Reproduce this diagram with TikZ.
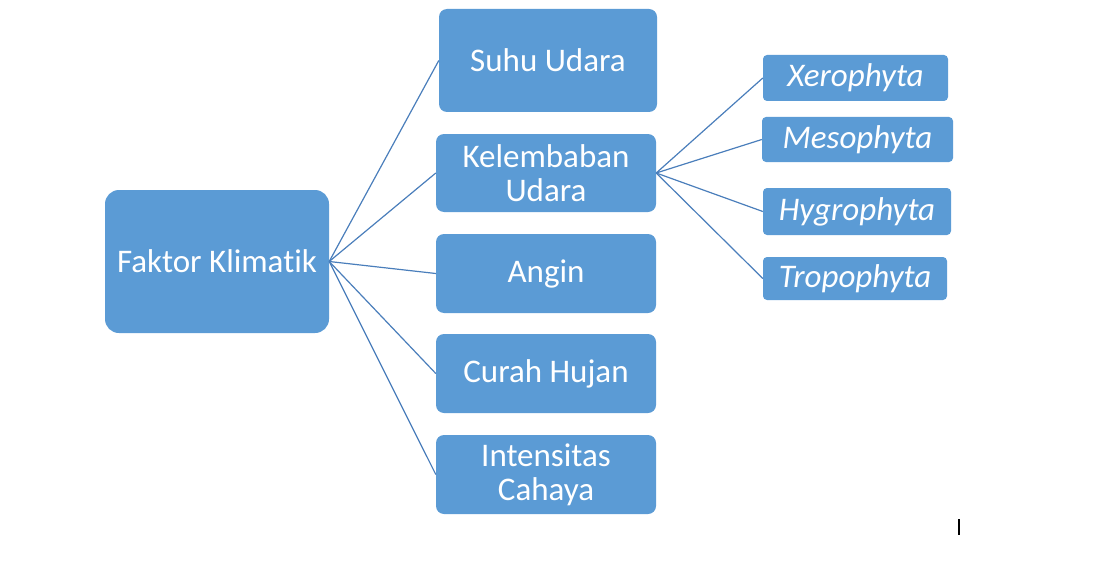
\documentclass[tikz,border=0pt]{standalone}
\usepackage{fontspec}
\setmainfont[Ligatures=NoCommon]{Carlito}
\definecolor{boxblue}{HTML}{5B9BD5}
\definecolor{lineblue}{HTML}{4A7EBB}
\begin{document}
\begin{tikzpicture}[x=1pt,y=-1pt,
  box/.style={fill=boxblue, draw=none, text=white, inner sep=0pt, align=center,
    font=\fontsize{33}{34}\selectfont},
  bigbox/.style={box, rounded corners=14pt},
  midbox/.style={box, rounded corners=8pt},
  smallbox/.style={box, rounded corners=4pt, font=\fontsize{33}{34}\selectfont\itshape},
  conn/.style={draw=lineblue, line width=1.2pt}]
\useasboundingbox (0,0) rectangle (1110,583);
\node[bigbox, minimum width=224pt, minimum height=143pt] (fk) at (217,261.5) {Faktor Klimatik};
\node[midbox, minimum width=218pt, minimum height=103pt] (su) at (548,60.5) {Suhu Udara};
\node[midbox, minimum width=220pt, minimum height=78pt] (ku) at (546,173) {Kelembaban\\Udara};
\node[midbox, minimum width=220pt, minimum height=79pt] (an) at (546,273.5) {Angin};
\node[midbox, minimum width=220pt, minimum height=79pt] (ch) at (546,373.5) {Curah Hujan};
\node[midbox, minimum width=220pt, minimum height=79pt] (ic) at (546,474.5) {Intensitas\\Cahaya};
\node[smallbox, minimum width=185pt, minimum height=46pt] (xe) at (855.5,78) {Xerophyta};
\node[smallbox, minimum width=191pt, minimum height=45pt] (me) at (857.5,139.5) {Mesophyta};
\node[smallbox, minimum width=188pt, minimum height=47pt] (hy) at (857,211.5) {Hygrophyta};
\node[smallbox, minimum width=184pt, minimum height=43pt] (tr) at (855,278.5) {Tropophyta};
\foreach \t in {su,ku,an,ch,ic} \draw[conn] (fk.east) -- (\t.west);
\foreach \t in {xe,me,hy,tr} \draw[conn] (ku.east) -- (\t.west);
\coordinate (c1) at (959,519);
\coordinate (c2) at (959,535);
\draw[black, line width=2pt] (c1) -- (c2);
\end{tikzpicture}
\end{document}
